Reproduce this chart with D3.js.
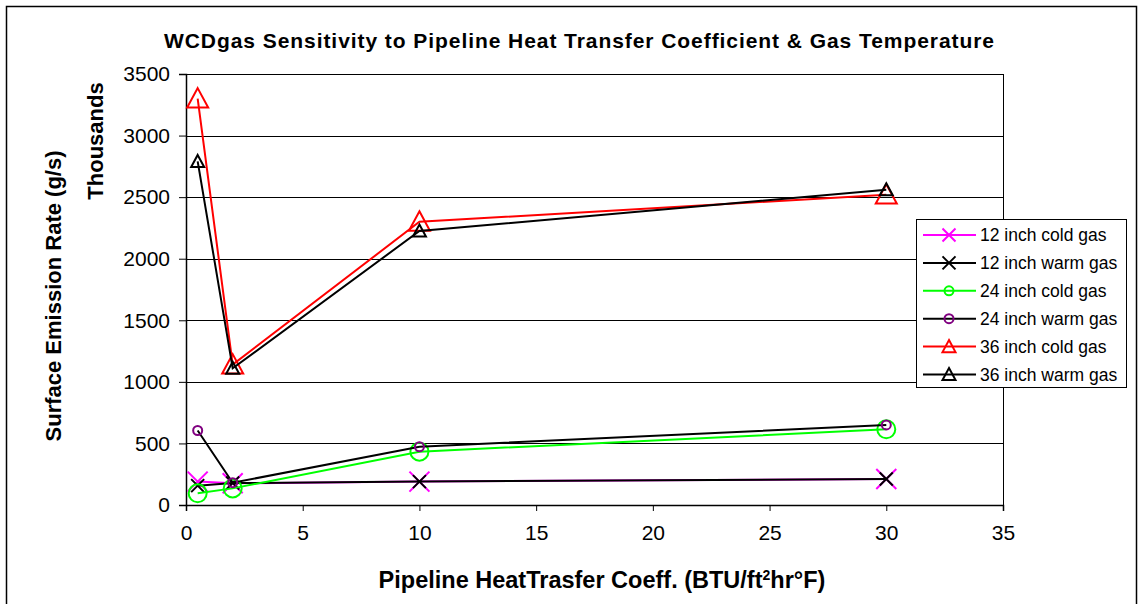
<!DOCTYPE html>
<html>
<head>
<meta charset="utf-8">
<script src="https://cdn.jsdelivr.net/npm/d3@7"></script>
<style>
  html, body { margin: 0; padding: 0; background: #fff; }
  svg { display: block; font-family: "Liberation Sans", Arial, sans-serif; }
</style>
</head>
<body>
<svg id="chart" width="1141" height="604"></svg>
<script>
// ---- data ----
const xValues = [0.5, 2, 10, 30];
const cold12 = [190, 176, 190, 211];
const warm12 = [157, 178, 190, 211];
const cold24 = [95, 135, 433, 615];
const warm24 = [605, 181, 473, 650];
const cold36 = [3300, 1140, 2300, 2520];
const warm36 = [2790, 1110, 2225, 2560];
const seriesNames = ["12 inch cold gas", "12 inch warm gas", "24 inch cold gas", "24 inch warm gas", "36 inch cold gas", "36 inch warm gas"];
const xTicks = [0, 5, 10, 15, 20, 25, 30, 35];
const yTicks = [0, 500, 1000, 1500, 2000, 2500, 3000, 3500];

const titleText = "WCDgas Sensitivity to Pipeline Heat Transfer Coefficient & Gas Temperature";
const yTitle = "Surface Emission Rate (g/s)";
const yUnit = "Thousands";

const series = [
  { name: seriesNames[0], values: cold12, line: "#ff00ff", marker: "x", mColor: "#ff00ff", size: 10, lsize: 6.5 },
  { name: seriesNames[1], values: warm12, line: "#000000", marker: "x", mColor: "#000000", size: 6.5, lsize: 6.5 },
  { name: seriesNames[2], values: cold24, line: "#00ff00", marker: "o", mColor: "#00ff00", size: 9, lsize: 4.5 },
  { name: seriesNames[3], values: warm24, line: "#000000", marker: "o", mColor: "#800080", size: 4.5, lsize: 4.5 },
  { name: seriesNames[4], values: cold36, line: "#ff0000", marker: "t", mColor: "#ff0000", size: 10.5, lsize: 6.5 },
  { name: seriesNames[5], values: warm36, line: "#000000", marker: "t", mColor: "#000000", size: 6.5, lsize: 6.5 }
];

const svg = d3.select("#chart");
const plot = { left: 186, right: 1003, top: 74, bottom: 505 };

const x = d3.scaleLinear().domain([0, 35]).range([plot.left, plot.right]);
const y = d3.scaleLinear().domain([0, 3500]).range([plot.bottom, plot.top]);

// outer frame
svg.append("rect").attr("x", 6.5).attr("y", 6.5).attr("width", 1130).attr("height", 610)
  .attr("fill", "#fff").attr("stroke", "#000").attr("stroke-width", 1.5);

// title
svg.append("text").attr("x", 579).attr("y", 48).attr("text-anchor", "middle")
  .attr("font-size", 21).attr("font-weight", "bold").attr("textLength", 830)
  .text(titleText);

// gridlines
svg.append("g").selectAll("line").data(yTicks.filter(d => d > 0)).join("line")
  .attr("x1", plot.left).attr("x2", plot.right)
  .attr("y1", d => Math.round(y(d)) + 0.5).attr("y2", d => Math.round(y(d)) + 0.5)
  .attr("stroke", "#000").attr("stroke-width", 1);

// right border of plot area
svg.append("line").attr("x1", plot.right + 0.5).attr("x2", plot.right + 0.5)
  .attr("y1", plot.top).attr("y2", plot.bottom).attr("stroke", "#000").attr("stroke-width", 1);

// axes
const yAxis = d3.axisLeft(y).tickValues(yTicks).tickSize(7).tickPadding(9).tickFormat(d3.format("d"));
const gy = svg.append("g").attr("transform", `translate(${plot.left},0)`).call(yAxis);
gy.select(".domain").attr("stroke", "#000").attr("stroke-width", 1.5);
gy.selectAll(".tick line").attr("stroke", "#000");
gy.selectAll(".tick text").attr("font-size", 21).attr("fill", "#000")
  .attr("font-family", "Liberation Sans, Arial, sans-serif");

const xAxis = d3.axisBottom(x).tickValues(xTicks).tickSize(6).tickPadding(14).tickFormat(d3.format("d"));
const gx = svg.append("g").attr("transform", `translate(0,${plot.bottom})`).call(xAxis);
gx.select(".domain").attr("stroke", "#000").attr("stroke-width", 1.5);
gx.selectAll(".tick line").attr("stroke", "#000");
gx.selectAll(".tick text").attr("font-size", 21).attr("fill", "#000")
  .attr("font-family", "Liberation Sans, Arial, sans-serif");

// axis titles
const xt = svg.append("text").attr("x", 602).attr("y", 588).attr("text-anchor", "middle")
  .attr("font-size", 23.5).attr("font-weight", "bold");
xt.append("tspan").text("Pipeline HeatTrasfer Coeff. (BTU/ft");
xt.append("tspan").attr("font-size", 14).attr("dy", -8).text("2");
xt.append("tspan").attr("dy", 8).text("hr°F)");

svg.append("text").attr("transform", "translate(61,296) rotate(-90)").attr("text-anchor", "middle")
  .attr("font-size", 22).attr("font-weight", "bold").text(yTitle);
svg.append("text").attr("transform", "translate(103,141) rotate(-90)").attr("text-anchor", "middle")
  .attr("font-size", 22).attr("font-weight", "bold").text(yUnit);

// markers
function drawMarker(g, type, cx, cy, s, color) {
  if (type === "x") {
    g.append("path").attr("d", `M${cx - s},${cy - s}L${cx + s},${cy + s}M${cx - s},${cy + s}L${cx + s},${cy - s}`)
      .attr("stroke", color).attr("stroke-width", 2).attr("fill", "none");
  } else if (type === "o") {
    g.append("circle").attr("cx", cx).attr("cy", cy).attr("r", s)
      .attr("stroke", color).attr("stroke-width", 2).attr("fill", "none");
  } else {
    g.append("path").attr("d", `M${cx},${cy - s}L${cx + s},${cy + s * 0.85}L${cx - s},${cy + s * 0.85}Z`)
      .attr("stroke", color).attr("stroke-width", 2).attr("fill", "none");
  }
}

const line = d3.line().x(d => x(d[0])).y(d => y(d[1]));
series.forEach(s => {
  const pts = xValues.map((xv, i) => [xv, s.values[i]]);
  const g = svg.append("g");
  g.append("path").attr("d", line(pts)).attr("fill", "none").attr("stroke", s.line).attr("stroke-width", 2);
  pts.forEach(p => drawMarker(g, s.marker, x(p[0]), y(p[1]), s.size, s.mColor));
});

// legend
const lg = svg.append("g");
lg.append("rect").attr("x", 916.5).attr("y", 219.5).attr("width", 210).attr("height", 168)
  .attr("fill", "#fff").attr("stroke", "#000").attr("stroke-width", 1);
const rowY = d => 235 + d * 27.9;
series.forEach((s, i) => {
  const cy = rowY(i);
  lg.append("line").attr("x1", 923).attr("x2", 976).attr("y1", cy).attr("y2", cy)
    .attr("stroke", s.line).attr("stroke-width", 2);
  drawMarker(lg, s.marker, 949, cy, s.lsize, s.mColor);
  lg.append("text").attr("x", 980).attr("y", cy + 6).attr("font-size", 17.5).text(s.name);
});
</script>
</body>
</html>
